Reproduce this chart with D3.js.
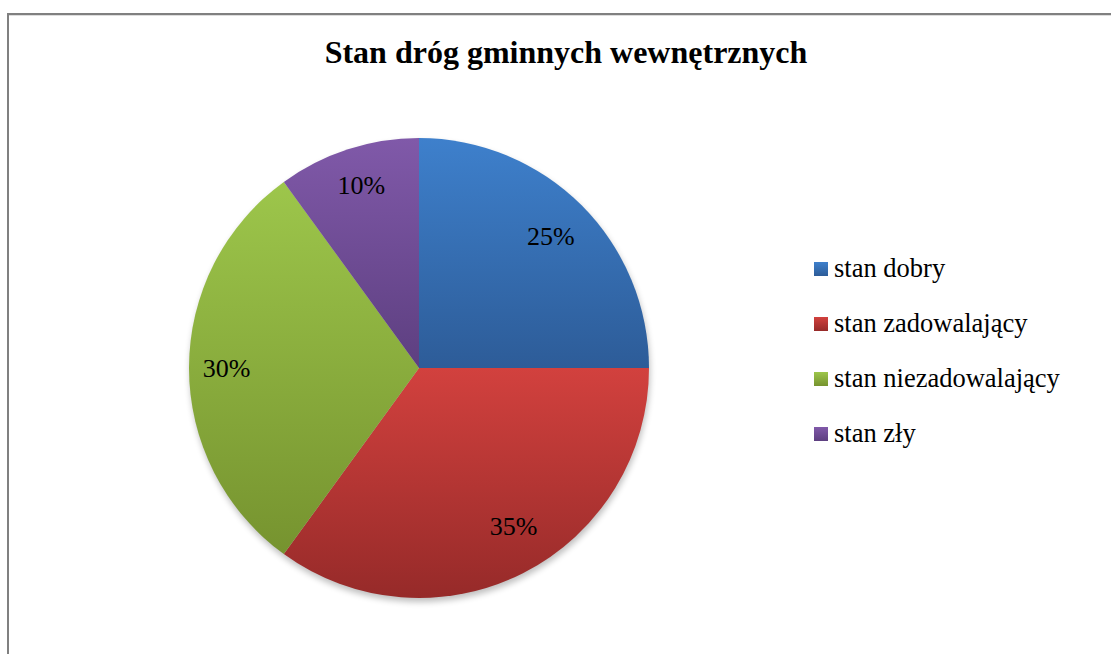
<!DOCTYPE html>
<html>
<head>
<meta charset="utf-8">
<script src="https://cdn.jsdelivr.net/npm/d3@7"></script>
<style>
  body { margin: 0; background: #fff; }
</style>
</head>
<body>
<svg id="chart" width="1111" height="654"></svg>
<script>
const categories = ["stan dobry", "stan zadowalający", "stan niezadowalający", "stan zły"];
const values = [25, 35, 30, 10];
const labels = ["25%", "35%", "30%", "10%"];
// top and bottom colour of each slice gradient
const colorsTop = ["#3e80cc", "#d2413e", "#9dc64b", "#8059a9"];
const colorsBottom = ["#2d5c98", "#962a29", "#76932f", "#5d3f80"];

const serif = "'Liberation Serif', 'Times New Roman', Times, serif";

const svg = d3.select("#chart"),
      width = +svg.attr("width"),
      height = +svg.attr("height");

// chart frame
svg.append("rect")
    .attr("x", 8).attr("y", 14)
    .attr("width", 1120).attr("height", 660)
    .attr("fill", "none")
    .attr("stroke", "#808080")
    .attr("stroke-width", 2);
svg.append("line")
    .attr("x1", 9).attr("x2", width).attr("y1", 15.5).attr("y2", 15.5)
    .attr("stroke", "#ddd").attr("stroke-width", 1);

svg.append("text")
    .attr("x", 566).attr("y", 63)
    .attr("text-anchor", "middle")
    .attr("font-family", serif)
    .attr("font-size", 32)
    .attr("font-weight", "bold")
    .text("Stan dróg gminnych wewnętrznych");

const defs = svg.append("defs");
categories.forEach((c, i) => {
    const g = defs.append("linearGradient")
        .attr("id", "grad" + i)
        .attr("x1", 0).attr("y1", 0).attr("x2", 0).attr("y2", 1);
    g.append("stop").attr("offset", "0%").attr("stop-color", colorsTop[i]);
    g.append("stop").attr("offset", "100%").attr("stop-color", colorsBottom[i]);
});
const blur = defs.append("filter").attr("id", "shadow")
    .attr("x", "-10%").attr("y", "-10%").attr("width", "120%").attr("height", "120%");
blur.append("feGaussianBlur").attr("stdDeviation", 3);

const cx = 419, cy = 368, r = 230;
const pie = d3.pie().sort(null).value(d => d);
const arcs = pie(values);
const arc = d3.arc().innerRadius(0).outerRadius(r);
const labelArc = d3.arc().innerRadius(r * 0.81).outerRadius(r * 0.81);

const g = svg.append("g").attr("transform", `translate(${cx},${cy})`);

g.append("circle")
    .attr("cx", 1).attr("cy", 4).attr("r", r)
    .attr("fill", "#000").attr("opacity", 0.25)
    .attr("filter", "url(#shadow)");

g.selectAll("path.slice")
    .data(arcs)
    .enter().append("path")
    .attr("class", "slice")
    .attr("d", arc)
    .attr("fill", (d, i) => `url(#grad${i})`);

const labelOffset = [[0, 0], [10, -8], [-6, 0], [0, -6]];
g.selectAll("text.lbl")
    .data(arcs)
    .enter().append("text")
    .attr("class", "lbl")
    .attr("transform", (d, i) => {
        const p = labelArc.centroid(d);
        return `translate(${p[0] + labelOffset[i][0]},${p[1] + labelOffset[i][1]})`;
    })
    .attr("text-anchor", "middle")
    .attr("dy", "0.35em")
    .attr("font-family", serif)
    .attr("font-size", 26)
    .attr("fill", "#000")
    .text((d, i) => labels[i]);

// legend
const legendY = d3.scalePoint().domain(categories).range([269, 434]);
const legend = svg.append("g").selectAll("g")
    .data(categories)
    .enter().append("g")
    .attr("transform", d => `translate(814,${legendY(d)})`);
legend.append("rect")
    .attr("x", 0).attr("y", -7)
    .attr("width", 14).attr("height", 14)
    .attr("fill", (d, i) => `url(#grad${i})`);
legend.append("text")
    .attr("x", 20).attr("y", 0)
    .attr("dy", "0.32em")
    .attr("font-family", serif)
    .attr("font-size", 26.5)
    .text(d => d);
</script>
</body>
</html>
